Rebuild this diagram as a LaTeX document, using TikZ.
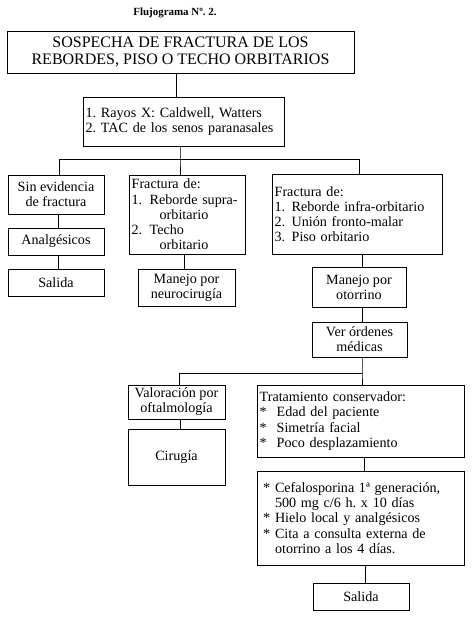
\documentclass[tikz,border=0pt]{standalone}
\usepackage{fontspec}
\setmainfont{Liberation Serif}
\frenchspacing
\begin{document}
\begin{tikzpicture}[x=0.75pt,y=-0.75pt,
  box/.style={draw,line width=0.6pt,inner xsep=0pt,inner ysep=0pt,align=center,
    font=\fontsize{10.6}{11.4}\selectfont},
  lbox/.style={box,align=left,inner xsep=2pt},
  ln/.style={line width=0.6pt}]
\useasboundingbox (0,0) rectangle (473,624);
\node[font=\bfseries\fontsize{8.2}{9}\selectfont] (head) at (175,13) {Flujograma Nº. 2.};
% boxes
\node[box,minimum width=260.25pt,minimum height=31.5pt,font=\fontsize{12}{12.9}\selectfont] (title) at (180.5,52)
  {SOSPECHA DE FRACTURA DE LOS\\REBORDES, PISO O TECHO ORBITARIOS};
\node[lbox,text width=146.75pt,minimum height=36.75pt] (rayos) at (183.5,121.5)
  {1. Rayos X: Caldwell, Watters\\2. TAC de los senos paranasales};
\node[box,minimum width=72pt,minimum height=29.25pt] (sin) at (56,194.5)
  {Sin evidencia\\de fractura};
\node[lbox,text width=83pt,minimum height=59.25pt] (fmid) at (187,214.5)
  {Fractura de:\\\makebox[13.5pt][l]{1.}Reborde supra-\\\hspace*{21pt}orbitario\\
   \makebox[13.5pt][l]{2.}Techo\\\hspace*{21pt}orbitario};
\node[lbox,text width=123.5pt,minimum height=60pt] (fright) at (357,214)
  {Fractura de:\\\makebox[12.75pt][l]{1.}Reborde infra-orbitario\\
   \makebox[12.75pt][l]{2.}Unión fronto-malar\\\makebox[12.75pt][l]{3.}Piso orbitario};
\node[box,minimum width=72pt,minimum height=20.25pt] (analg) at (56,241.5) {Analgésicos};
\node[box,minimum width=72pt,minimum height=20.25pt] (salL) at (56,282.5) {Salida};
\node[box,minimum width=72.75pt,minimum height=27.75pt] (neuro) at (186.5,287.5)
  {Manejo por\\neurocirugía};
\node[box,minimum width=70.5pt,minimum height=30pt] (otor) at (359,287)
  {Manejo por\\otorrino};
\node[box,minimum width=71.25pt,minimum height=26.25pt] (ver) at (359.5,339.5)
  {Ver órdenes\\médicas};
\node[box,minimum width=72.75pt,minimum height=25.5pt] (valor) at (176.5,402)
  {Valoración por\\oftalmología};
\node[lbox,text width=151.25pt,minimum height=54pt] (trat) at (360.5,421)
  {Tratamiento conservador:\\\makebox[12.75pt][l]{*}Edad del paciente\\
   \makebox[12.75pt][l]{*}Simetría facial\\\makebox[12.75pt][l]{*}Poco desplazamiento};
\node[box,minimum width=72.75pt,minimum height=42pt] (ciru) at (176.5,457) {Cirugía};
\node[lbox,minimum height=70.5pt,inner xsep=4.5pt,text width=146.25pt] (cefa) at (360.5,518)
  {\makebox[9pt][l]{*}Cefalosporina 1ª generación,\\
   \hspace*{9pt}500 mg c/6 h. x 10 días\\
   \makebox[9pt][l]{*}Hielo local y analgésicos\\
   \makebox[9pt][l]{*}Cita a consulta externa de\\
   \hspace*{9pt}otorrino a los 4 días.};
\node[box,minimum width=72pt,minimum height=20.25pt] (salR) at (361,596.5) {Salida};
% junctions
\coordinate (j1) at (180,159);
\coordinate (jL) at (59,159);
\coordinate (jR) at (359,159);
\coordinate (k1) at (362,373);
\coordinate (kL) at (179,373);
% connectors
\draw[ln] (title.south -| 176,0) -- (rayos.north -| 176,0);
\draw[ln] (rayos.south -| j1) -- (j1) -- (fmid.north -| j1);
\draw[ln] (jL) -- (jR);
\draw[ln] (jL) -- (sin.north -| jL);
\draw[ln] (jR) -- (fright.north -| jR);
\draw[ln] (sin.south -| 58,0) -- (analg.north -| 58,0);
\draw[ln] (analg.south -| 58,0) -- (salL.north -| 58,0);
\draw[ln] (fmid.south -| 184,0) -- (neuro.north -| 184,0);
\draw[ln] (fright.south -| 362,0) -- (otor.north -| 362,0);
\draw[ln] (otor.south -| 362,0) -- (ver.north -| 362,0);
\draw[ln] (ver.south -| k1) -- (k1) -- (trat.north -| k1);
\draw[ln] (k1) -- (kL) -- (valor.north -| kL);
\draw[ln] (valor.south -| 180,0) -- (ciru.north -| 180,0);
\draw[ln] (trat.south -| 364,0) -- (cefa.north -| 364,0);
\draw[ln] (cefa.south -| 365,0) -- (salR.north -| 365,0);
\end{tikzpicture}
\end{document}
